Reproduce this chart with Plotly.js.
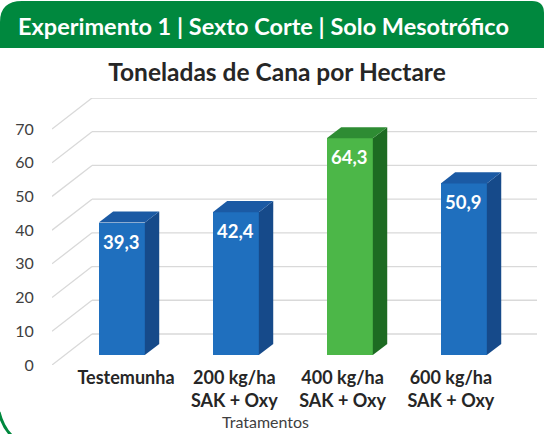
<!DOCTYPE html>
<html><head><meta charset="utf-8">
<script src="https://cdn.plot.ly/plotly-3.0.1.min.js"></script>
<style>html,body{margin:0;padding:0;background:#fff;}#chart{width:544px;height:434px;}</style>
</head><body><div id="chart"></div>
<script>
// ---- data ----
const categories = ['Testemunha', '200 kg/ha<br>SAK + Oxy', '400 kg/ha<br>SAK + Oxy', '600 kg/ha<br>SAK + Oxy'];
const values = [39.3, 42.4, 64.3, 50.9];
const yTicks = [0, 10, 20, 30, 40, 50, 60, 70];
const frontColors = ['#1f6fbe', '#1f6fbe', '#4cb748', '#1f6fbe'];
const sideColors = ['#164a8a', '#164a8a', '#1d6b22', '#164a8a'];
const topColors = ['#1b5aa4', '#1b5aa4', '#2e8c33', '#1b5aa4'];
const headerText = 'Experimento 1 | Sexto Corte | Solo Mesotrófico';
const titleText = 'Toneladas de Cana por Hectare';
const xTitleText = 'Tratamentos';

// ---- geometry (style/layout constants) ----
const W = 544, H = 434, ML = 52, MR = 7, MT = 98, MB = 69;
const plotW = W - ML - MR, plotH = H - MT - MB;
const CATPX = 114;               // px per category on bar axis
const DX = 40 / CATPX;           // wall depth in x units
const DY = 9.2;                  // wall depth in y units
const YMAX = 70;
const DF = 0.32, DS = 0.36, BW = 0.404;
const xRange = [-0.5, -0.5 + plotW / CATPX];
const yRange = [0, YMAX + DY];
const FONT = 'Lato, "Open Sans", sans-serif';
const GREEN = '#00883e';

const X = px => (px - ML) / plotW;
const Y = py => (H - MB - py) / plotH;

// ---- traces ----
const idx = values.map((v, i) => i);
const xc = idx.map(i => i + DF * DX);
const base = DF * DY;

const traces = [];
// front faces
traces.push({
  type: 'bar', x: xc, y: values, base: values.map(() => base), width: BW,
  marker: {color: frontColors, line: {width: 0}}, hoverinfo: 'skip', showlegend: false
});
// side + top faces
values.forEach((v, i) => {
  const xl = xc[i] - BW / 2, xr = xc[i] + BW / 2, t = base + v;
  traces.push({
    type: 'scatter', mode: 'lines', fill: 'toself', fillcolor: sideColors[i],
    line: {width: 0, color: sideColors[i]}, hoverinfo: 'skip', showlegend: false,
    x: [xr, xr + DS * DX, xr + DS * DX, xr, xr],
    y: [base, base + DS * DY, t + DS * DY, t, base]
  });
  traces.push({
    type: 'scatter', mode: 'lines', fill: 'toself', fillcolor: topColors[i],
    line: {width: 0, color: topColors[i]}, hoverinfo: 'skip', showlegend: false,
    x: [xl, xr, xr + DS * DX, xl + DS * DX, xl],
    y: [t, t, t + DS * DY, t + DS * DY, t]
  });
});
// invisible trace for the label axis
traces.push({type: 'scatter', mode: 'markers', x: idx, y: idx.map(() => 0), xaxis: 'x2',
  marker: {opacity: 0}, hoverinfo: 'skip', showlegend: false});

// ---- shapes ----
const shapes = [];
yTicks.forEach(v => {
  shapes.push({type: 'line', xref: 'x', yref: 'y', layer: 'below',
    x0: xRange[0], y0: v, x1: xRange[0] + DX, y1: v + DY, line: {color: '#d9d9d9', width: 1.3}});
  shapes.push({type: 'line', xref: 'x', yref: 'y', layer: 'below',
    x0: xRange[0] + DX, y0: v + DY, x1: xRange[1], y1: v + DY, line: {color: '#d9d9d9', width: 1.3}});
});
const f = (a, b) => X(a).toFixed(5) + ',' + Y(b).toFixed(5);
shapes.push({type: 'path', xref: 'paper', yref: 'paper', layer: 'above',
  path: 'M' + f(0, 48) + ' L' + f(0, 22) + ' Q' + f(0, 1) + ' ' + f(22, 1) + ' L' + f(532, 1) +
        ' Q' + f(544, 1) + ' ' + f(544, 13) + ' L' + f(544, 48) + ' Z',
  fillcolor: GREEN, line: {width: 0}});
shapes.push({type: 'path', xref: 'paper', yref: 'paper', layer: 'above',
  path: 'M' + f(-1, 412) + ' Q' + f(3, 428) + ' ' + f(13, 437),
  line: {color: GREEN, width: 3}});

// ---- annotations ----
const annotations = values.map((v, i) => ({
  xref: 'x', yref: 'y', x: xc[i], y: base + v, yshift: -19, showarrow: false,
  text: v.toFixed(1).replace('.', ','), font: {family: FONT, size: 18.5, color: '#ffffff', weight: 'bold'},
  xanchor: 'center', yanchor: 'middle'
}));
annotations.push({xref: 'paper', yref: 'paper', x: X(263.5), y: Y(26), showarrow: false,
  text: headerText, font: {family: FONT, size: 23.5, color: '#ffffff', weight: 'bold'},
  xanchor: 'center', yanchor: 'middle'});
annotations.push({xref: 'paper', yref: 'paper', x: X(265), y: Y(421), showarrow: false,
  text: xTitleText, font: {family: FONT, size: 16, color: '#404040'},
  xanchor: 'center', yanchor: 'middle'});

const layout = {
  width: W, height: H, margin: {l: ML, r: MR, t: MT, b: MB},
  paper_bgcolor: '#ffffff', plot_bgcolor: '#ffffff',
  showlegend: false, bargap: 0,
  title: {text: titleText, font: {family: FONT, size: 24.5, color: '#262626', weight: 'bold'},
    xref: 'paper', x: X(277), xanchor: 'center', yref: 'container', y: 1 - 72 / H, yanchor: 'middle'},
  xaxis: {range: xRange, showgrid: false, zeroline: false, showline: false, showticklabels: false, ticks: '', fixedrange: true},
  xaxis2: {overlaying: 'x', anchor: 'y', side: 'bottom',
    range: [(ML - 126) / 108.3, (W - MR - 126) / 108.3],
    tickmode: 'array', tickvals: idx, ticktext: categories,
    showgrid: false, zeroline: false, showline: false, ticks: '',
    tickfont: {family: FONT, size: 18, color: '#262626', weight: 'bold'}},
  yaxis: {range: yRange, tickmode: 'array', tickvals: yTicks, ticktext: yTicks.map(String),
    showgrid: false, zeroline: false, showline: false, ticks: 'outside', ticklen: 14, tickcolor: 'rgba(0,0,0,0)',
    tickfont: {family: FONT, size: 16, color: '#404040'}},
  shapes: shapes, annotations: annotations
};

Plotly.newPlot('chart', traces, layout, {displayModeBar: false, staticPlot: true});
</script></body></html>
